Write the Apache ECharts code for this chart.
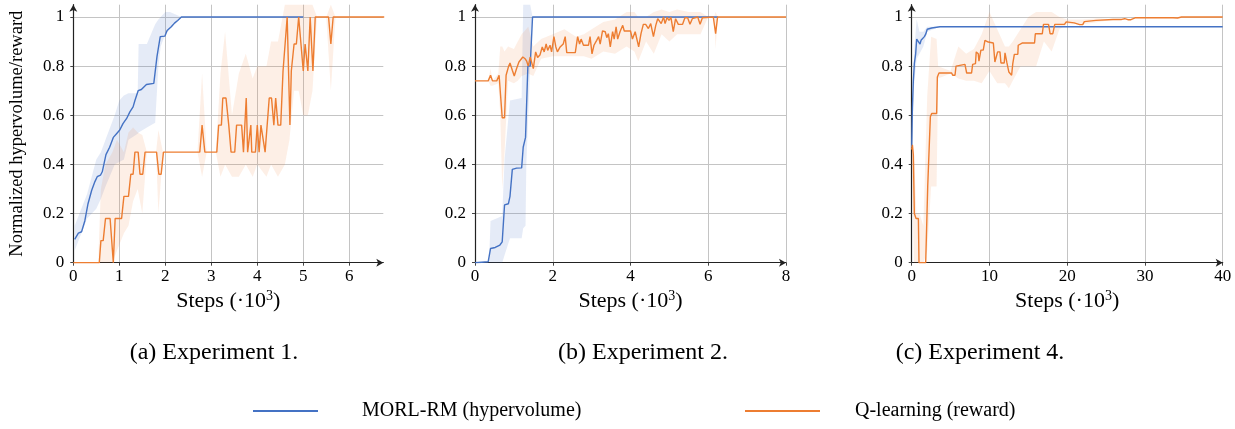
<!DOCTYPE html>
<html><head><meta charset="utf-8">
<script src="https://cdn.jsdelivr.net/npm/echarts@6/dist/echarts.min.js"></script>
<style>html,body{margin:0;padding:0;background:#fff}#c{width:1235px;height:429px}</style>
</head><body><div id="c"></div>
<script>
// ---------- Experiment 1 ----------
const e1BlueX = [0.03,0.06,0.11,0.18,0.25,0.32,0.40,0.47,0.52,0.59,0.63,0.67,0.71,0.79,0.87,0.94,1.01,1.08,1.16,1.23,1.30,1.34,1.41,1.48,1.59,1.75,1.82,1.89,1.99,2.04,2.13,2.20,2.27,2.35,5.0];
const e1BlueY = [0.095,0.10,0.12,0.126,0.17,0.24,0.295,0.33,0.35,0.356,0.37,0.37,0.44,0.47,0.51,0.525,0.54,0.566,0.587,0.614,0.634,0.66,0.70,0.705,0.725,0.73,0.84,0.92,0.922,0.945,0.96,0.975,0.986,1.0,1.0];
const e1BlueBandX = [0.03,0.3,0.5,0.6,0.7,0.9,1.0,1.1,1.2,1.4,1.42,1.6,1.78,1.85,1.9,2.0,2.1,2.35];
const e1BlueLo = [0.05,0.18,0.22,0.26,0.31,0.40,0.41,0.42,0.50,0.525,0.53,0.55,0.57,0.80,0.88,0.93,0.95,1.0];
const e1BlueHi = [0.15,0.28,0.42,0.45,0.50,0.60,0.66,0.68,0.69,0.69,0.89,0.89,0.97,0.99,1.0,1.02,1.02,1.0];
const e1OrangeX = [0,0.565,0.60,0.65,0.70,0.80,0.87,0.91,1.05,1.10,1.20,1.25,1.30,1.34,1.41,1.45,1.51,1.56,1.81,1.86,1.91,1.96,2.75,2.80,2.86,3.12,3.16,3.22,3.25,3.32,3.38,3.43,3.51,3.55,3.66,3.70,3.76,3.79,3.86,3.88,3.96,4.0,4.04,4.08,4.12,4.17,4.26,4.31,4.36,4.40,4.45,4.51,4.56,4.65,4.71,4.74,4.80,4.85,4.90,5.0,5.04,5.10,5.15,5.21,5.26,5.55,5.60,5.65,6.76];
const e1OrangeY = [0,0,0.09,0.09,0.18,0.18,0,0.18,0.18,0.27,0.27,0.36,0.36,0.45,0.45,0.36,0.36,0.45,0.45,0.36,0.36,0.45,0.45,0.56,0.45,0.45,0.56,0.56,0.67,0.67,0.56,0.45,0.45,0.56,0.56,0.45,0.67,0.45,0.56,0.45,0.45,0.56,0.45,0.56,0.56,0.45,0.67,0.67,0.56,0.67,0.56,0.56,0.78,1.0,0.56,0.78,0.89,0.89,1.0,0.78,0.89,0.78,1.0,0.78,1.0,1.0,0.89,1.0,1.0];
const e1OrangeBandX = [0.55,0.6,0.7,0.85,0.95,1.1,1.2,1.3,1.4,1.5,1.6,1.8,1.85,1.95,2.7,2.8,2.9,3.1,3.2,3.3,3.45,3.6,3.75,3.9,4.0,4.2,4.3,4.45,4.6,4.7,4.8,4.9,5.0,5.1,5.2,5.3,5.5,5.6,5.7,6.76];
const e1OrangeLo = [0,0,0,0,0.05,0.12,0.15,0.25,0.3,0.2,0.45,0.45,0.2,0.45,0.45,0.35,0.45,0.45,0.35,0.4,0.35,0.35,0.4,0.35,0.4,0.35,0.4,0.35,0.4,0.5,0.7,0.7,0.6,0.6,0.7,1.0,1.0,0.7,1.0,1.0];
const e1OrangeHi = [0.05,0.3,0.4,0.45,0.5,0.45,0.53,0.55,0.53,0.52,0.45,0.45,0.54,0.45,0.45,0.77,0.45,0.45,0.77,0.94,0.6,0.77,0.85,0.75,0.8,0.8,0.9,0.9,1.05,1.05,1.05,1.05,1.05,1.05,1.05,1.0,1.0,1.05,1.0,1.0];

// ---------- Experiment 2 ----------
const e2BlueX = [0,0.34,0.40,0.52,0.64,0.70,0.76,0.86,0.90,0.96,1.07,1.20,1.24,1.30,1.36,1.42,1.48,6.25];
const e2BlueY = [0,0.004,0.058,0.062,0.072,0.085,0.235,0.24,0.27,0.38,0.385,0.386,0.47,0.51,0.80,0.80,1.0,1.0];
const e2BlueBandX = [0.36,0.4,0.7,0.76,0.9,1.2,1.24,1.3,1.32,1.42,1.48];
const e2BlueLo = [0,0,0,0.03,0.1,0.1,0.14,0.15,0.4,0.8,1.0];
const e2BlueHi = [0,0.17,0.19,0.42,0.66,0.67,1.05,1.05,1.05,1.05,1.0];
const e2OrangeX = [0,0.34,0.40,0.45,0.56,0.62,0.67,0.70,0.76,0.80,0.86,0.90,0.96,1.01,1.07,1.13,1.18,1.23,1.29,1.33,1.37,1.42,1.46,1.50,1.56,1.61,1.67,1.73,1.78,1.83,1.87,1.93,1.97,2.03,2.08,2.12,2.19,2.27,2.32,2.36,2.58,2.64,2.69,2.73,2.79,2.92,2.96,3.01,3.06,3.13,3.18,3.22,3.28,3.35,3.39,3.43,3.48,3.54,3.58,3.63,3.67,3.73,3.80,3.84,4.0,4.05,4.12,4.16,4.21,4.27,4.33,4.39,4.46,4.52,4.59,4.65,4.70,4.74,4.79,4.85,4.89,4.94,4.99,5.04,5.10,5.16,5.23,5.34,5.40,5.47,5.53,5.59,5.73,5.79,5.85,6.13,6.19,6.24,8.0];
const e2OrangeY = [0.74,0.74,0.763,0.74,0.74,0.763,0.763,0.59,0.59,0.763,0.797,0.813,0.783,0.76,0.79,0.817,0.817,0.837,0.83,0.82,0.80,0.837,0.84,0.79,0.858,0.835,0.845,0.878,0.858,0.89,0.864,0.885,0.858,0.92,0.878,0.858,0.878,0.89,0.92,0.855,0.855,0.92,0.89,0.91,0.885,0.885,0.92,0.85,0.885,0.905,0.92,0.89,0.943,0.94,0.916,0.932,0.878,0.94,0.91,0.96,0.91,0.94,0.966,0.943,0.943,0.91,0.94,0.932,0.878,0.932,0.97,0.97,0.953,0.973,0.92,0.966,0.993,1.0,0.973,1.0,0.973,0.998,0.986,0.998,0.94,0.993,0.97,0.97,0.997,0.997,0.97,0.993,1.0,0.97,0.997,1.0,0.932,1.0,1.0];
const e2OrangeBandX = [0,0.34,0.40,0.45,0.6,0.65,0.7,0.76,0.85,1.0,1.1,1.2,1.37,1.5,1.7,2.0,2.3,2.6,2.8,3.0,3.3,3.6,3.9,4.1,4.2,4.4,4.6,4.8,5.0,5.2,5.5,5.8,6.0,6.15,6.19,6.24,8.0];
const e2OrangeLo = [0.74,0.74,0.72,0.72,0.73,0.6,0.30,0.45,0.74,0.73,0.74,0.76,0.77,0.76,0.83,0.84,0.84,0.84,0.84,0.83,0.86,0.85,0.88,0.86,0.82,0.9,0.85,0.93,0.9,0.93,0.93,0.93,1.0,1.0,0.87,1.0,1.0];
const e2OrangeHi = [0.74,0.74,0.79,0.74,0.77,0.88,0.88,0.86,0.88,0.87,0.9,0.93,0.96,0.88,0.91,0.93,0.95,0.92,0.93,0.95,0.98,0.99,1.02,1.02,1.0,1.0,1.02,1.03,1.02,1.03,1.02,1.02,1.0,1.0,1.02,1.0,1.0];

// ---------- Experiment 4 ----------
const e4BlueX = [0,0.09,0.21,0.34,0.51,0.64,0.86,1.07,1.2,1.4,1.63,1.8,2.0,2.57,3.2,3.64,40];
const e4BlueY = [0.47,0.63,0.74,0.81,0.85,0.91,0.90,0.89,0.905,0.90,0.92,0.93,0.95,0.955,0.958,0.96,0.96];
const e4BlueBandX = [0,0.3,0.64,1.0,1.5,2.0,3.6];
const e4BlueLo = [0.42,0.72,0.83,0.85,0.88,0.94,0.96];
const e4BlueHi = [0.5,0.86,0.99,0.94,0.94,0.96,0.96];
const e4OrangeX = [0,0.09,0.21,0.34,0.56,0.86,0.94,1.8,1.93,2.06,2.27,2.4,2.57,3.21,3.3,3.51,5.14,5.27,5.57,5.7,6.85,7.07,7.7,7.84,8.2,8.3,8.56,8.65,8.9,9.2,9.42,9.85,10.5,10.7,10.9,11.05,11.35,11.48,11.9,12.0,12.15,12.25,12.5,12.85,13.0,13.2,13.65,13.7,14.2,15.8,15.9,16.8,16.95,17.6,17.8,18.15,18.4,19.65,19.87,20.9,21.6,22.0,22.2,23.7,25.9,27.0,27.4,27.8,28.2,28.8,33.6,33.8,34.2,34.7,40];
const e4OrangeY = [0.46,0.48,0.44,0.20,0.18,0.18,0,0,0.153,0.31,0.31,0.594,0.607,0.607,0.756,0.772,0.772,0.763,0.763,0.80,0.807,0.772,0.772,0.807,0.81,0.858,0.85,0.82,0.865,0.865,0.905,0.898,0.894,0.817,0.817,0.858,0.858,0.813,0.813,0.854,0.854,0.813,0.776,0.763,0.81,0.848,0.848,0.885,0.894,0.894,0.932,0.932,0.97,0.97,0.932,0.932,0.97,0.97,0.98,0.976,0.969,0.969,0.981,0.986,0.99,0.99,0.993,0.989,0.989,0.997,0.997,1.0,0.996,1.0,1.0];
const e4OrangeBandX = [0,0.3,0.6,1.0,1.5,2.0,2.5,3.2,3.4,5,6,7,8,9,10,11,12,12.5,13,14,15,16,17,18,19,20,22,24,26,40];
const e4OrangeLo = [0.41,0.0,0,0,0,0.05,0.31,0.31,0.75,0.77,0.75,0.74,0.74,0.73,0.78,0.73,0.73,0.71,0.74,0.8,0.8,0.8,0.9,0.86,0.95,0.97,0.97,0.98,0.99,1.0];
const e4OrangeHi = [0.48,0.45,0.2,0.2,0.15,0.68,0.92,0.91,0.8,0.78,0.88,0.85,0.87,0.93,1.02,0.95,0.88,0.88,0.9,0.95,1.0,1.02,1.02,1.02,1.0,0.99,0.99,0.995,0.99,1.0];

// ---------- Labels ----------
const seriesNames = ['MORL-RM (hypervolume)', 'Q-learning (reward)'];
const captions = ['(a) Experiment 1.', '(b) Experiment 2.', '(c) Experiment 4.'];
const xAxisName = 'Steps (·10{sup|3})';
const yAxisName = 'Normalized hypervolume/reward';
const xMaxes = [6.74, 8, 40];
const xIntervals = [1, 2, 10];

const BLUE = '#4472c4', ORANGE = '#ed7d31';
const BLUE_BAND = 'rgba(68,114,196,0.14)', ORANGE_BAND = 'rgba(237,125,49,0.12)';
const FONT = '"Liberation Serif", "Times New Roman", serif';

const panels = [
  {blue:[e1BlueX,e1BlueY], blueBand:[e1BlueBandX,e1BlueLo,e1BlueHi], orange:[e1OrangeX,e1OrangeY], orangeBand:[e1OrangeBandX,e1OrangeLo,e1OrangeHi]},
  {blue:[e2BlueX,e2BlueY], blueBand:[e2BlueBandX,e2BlueLo,e2BlueHi], orange:[e2OrangeX,e2OrangeY], orangeBand:[e2OrangeBandX,e2OrangeLo,e2OrangeHi]},
  {blue:[e4BlueX,e4BlueY], blueBand:[e4BlueBandX,e4BlueLo,e4BlueHi], orange:[e4OrangeX,e4OrangeY], orangeBand:[e4OrangeBandX,e4OrangeLo,e4OrangeHi]}
];
const gridLefts = [73.3, 475, 911.7];
const captionCenters = [209, 638, 975];

// Shaded band drawn as one polygon through the axis scales (api.coord)
function band(i, b, color) {
  const [x, lo, hi] = b;
  return {type:'custom', name:'band', xAxisIndex:i, yAxisIndex:i, silent:true, z:1,
    data:x.map((v,k)=>[v, lo[k], hi[k]]),
    encode:{x:0, y:[1,2]},
    renderItem:function(params, api){
      if (params.dataIndex !== 0) return null;
      const pts = [];
      for (let k = 0; k < x.length; k++) pts.push(api.coord([x[k], hi[k]]));
      for (let k = x.length - 1; k >= 0; k--) pts.push(api.coord([x[k], lo[k]]));
      return {type:'polygon', shape:{points:pts}, style:{fill:color, stroke:null}};
    }};
}
function line(i, d, color, name, z) {
  const [x, y] = d;
  return {type:'line', name:name, color:color, xAxisIndex:i, yAxisIndex:i, symbol:'none', silent:true,
    lineStyle:{color:color, width:1.4}, data:x.map((v,k)=>[v, y[k]]), z:z};
}

const grids = [], xAxes = [], yAxes = [], series = [], titles = [];
panels.forEach((p, i) => {
  grids.push({left:gridLefts[i], top:4.7, width:i===0?310:311, height:258, outerBoundsMode:'none'});
  xAxes.push({type:'value', gridIndex:i, min:0, max:xMaxes[i], interval:xIntervals[i],
    name:xAxisName, nameLocation:'middle', nameGap:27,
    nameTextStyle:{fontFamily:FONT, fontSize:22, color:'#000', rich:{sup:{fontFamily:FONT, fontSize:14, verticalAlign:'bottom', padding:[0,0,9,0], color:'#000'}}},
    axisLine:{show:true, symbol:['none','arrow'], symbolSize:[6,7], lineStyle:{color:'#222', width:1.2}},
    axisTick:{show:true, length:3, lineStyle:{color:'#444'}},
    axisLabel:{fontFamily:FONT, fontSize:17, color:'#000', margin:5, showMaxLabel: i===0 ? false : true},
    splitLine:{show:true, showMaxLine: i!==0, lineStyle:{color:'#c4c4c4', width:1}}
  });
  yAxes.push({type:'value', gridIndex:i, min:0, max:1.05, interval:0.2,
    name: i===0 ? yAxisName : '', nameLocation:'middle', nameGap:47, nameRotate:90,
    nameTextStyle:{fontFamily:FONT, fontSize:18.5, color:'#000'},
    axisLine:{show:true, symbol:['none','arrow'], symbolSize:[6,7], lineStyle:{color:'#222', width:1.2}},
    axisTick:{show:true, length:3, lineStyle:{color:'#444'}},
    axisLabel:{fontFamily:FONT, fontSize:17, color:'#000', margin:9, showMaxLabel:false},
    splitLine:{show:true, showMaxLine:false, lineStyle:{color:'#c4c4c4', width:1}}
  });
  series.push(band(i, p.blueBand, BLUE_BAND));
  series.push(band(i, p.orangeBand, ORANGE_BAND));
  series.push(line(i, p.blue, BLUE, seriesNames[0], 3));
  series.push(line(i, p.orange, ORANGE, seriesNames[1], 4));
  titles.push({text:captions[i], left:captionCenters[i], top:336, textAlign:'center',
    textStyle:{fontFamily:FONT, fontSize:24, fontWeight:'normal', color:'#000'}});
});

const chart = echarts.init(document.getElementById('c'), null, {renderer:'canvas'});
chart.setOption({
  animation:false,
  backgroundColor:'#fff',
  title:titles,
  grid:grids, xAxis:xAxes, yAxis:yAxes, series:series,
  legend:[
    {data:[seriesNames[0]], left:253, top:401, padding:0, icon:'rect', itemWidth:65, itemHeight:2, selectedMode:false,
     textStyle:{fontFamily:FONT, fontSize:20, color:'#000', padding:[0,0,0,39]}},
    {data:[seriesNames[1]], left:745, top:401, padding:0, icon:'rect', itemWidth:75, itemHeight:2, selectedMode:false,
     textStyle:{fontFamily:FONT, fontSize:20, color:'#000', padding:[0,0,0,30]}}
  ]
});
</script></body></html>
